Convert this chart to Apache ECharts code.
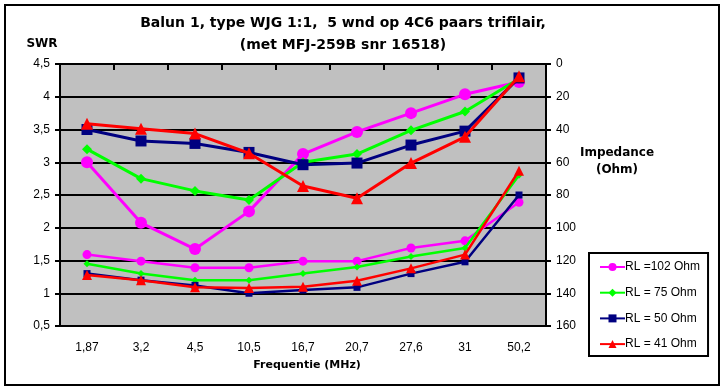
<!DOCTYPE html>
<html><head><meta charset="utf-8">
<script src="https://cdn.jsdelivr.net/npm/echarts@6/dist/echarts.min.js"></script>
<style>html,body{margin:0;padding:0;background:#fff}#c{width:726px;height:391px}</style>
</head><body><div id="c"></div>
<script>
var categories = ['1,87','3,2','4,5','10,5','16,7','20,7','27,6','31','50,2'];
var seriesNames = ['RL =102 Ohm','RL = 75 Ohm','RL = 50 Ohm','RL = 41 Ohm'];
// Impedance (right axis, Ohm)
var imp102 = [60, 97, 113, 90, 55, 41.5, 30, 18.5, 11];
var imp75  = [52, 70, 77.5, 83, 60, 55, 40.5, 29, 9];
var imp50  = [40, 47, 48.5, 54, 61.5, 60.5, 49.5, 41, 8.5];
var imp41  = [36.5, 39.5, 42.5, 54.5, 74.5, 82, 60.5, 44.5, 7.5];
// SWR (left axis)
var swr102 = [1.59, 1.49, 1.39, 1.39, 1.49, 1.49, 1.69, 1.8, 2.39];
var swr75  = [1.45, 1.3, 1.2, 1.2, 1.3, 1.4, 1.56, 1.69, 2.8];
var swr50  = [1.3, 1.2, 1.12, 1.0, 1.05, 1.09, 1.3, 1.48, 2.5];
var swr41  = [1.28, 1.2, 1.09, 1.08, 1.1, 1.19, 1.38, 1.59, 2.87];
var swrTicks = {min: 0.5, max: 4.5, interval: 0.5};
var impTicks = {min: 0, max: 160, interval: 20};

var colors = ['#FF00FF', '#00FF00', '#000080', '#FF0000'];
var symbols = ['circle', 'diamond', 'rect', 'triangle'];
var upperSize = [12, 10, 11, 12];
var lowerSize = [9, 7, 7, 10];
var impData = [imp102, imp75, imp50, imp41];
var swrData = [swr102, swr75, swr50, swr41];

var font = '"Liberation Sans", Arial, sans-serif';
var bfont = '"DejaVu Sans", "Liberation Sans", sans-serif';
var series = [];
for (var i = 0; i < 4; i++) {
  series.push({
    name: seriesNames[i], type: 'line', yAxisIndex: 1, data: impData[i],
    symbol: symbols[i], symbolSize: upperSize[i], z: 2 + i,
    lineStyle: {color: colors[i], width: 3}, itemStyle: {color: colors[i]},
    animation: false
  });
}
for (var j = 0; j < 4; j++) {
  series.push({
    name: seriesNames[j], type: 'line', yAxisIndex: 0, data: swrData[j],
    symbol: symbols[j], symbolSize: lowerSize[j], z: 2 + j,
    lineStyle: {color: colors[j], width: 2.5}, itemStyle: {color: colors[j]},
    animation: false
  });
}

var chart = echarts.init(document.getElementById('c'), null, {renderer: 'canvas'});
chart.setOption({
  backgroundColor: '#fff',
  animation: false,
  textStyle: {fontFamily: font},
  graphic: [
    {type: 'rect', shape: {x: 5, y: 5, width: 714, height: 380}, style: {fill: 'none', stroke: '#000', lineWidth: 2}, z: 0, silent: true},
    {type: 'text', x: 343, y: 23, style: {text: 'Balun 1, type WJG 1:1,  5 wnd op 4C6 paars trifilair,', font: 'bold 14px ' + bfont, fill: '#000', align: 'center', verticalAlign: 'middle'}},
    {type: 'text', x: 343, y: 45, style: {text: '(met MFJ-259B snr 16518)', font: 'bold 14px ' + bfont, fill: '#000', align: 'center', verticalAlign: 'middle'}},
    {type: 'text', x: 42, y: 44, style: {text: 'SWR', font: 'bold 12px ' + bfont, fill: '#000', align: 'center', verticalAlign: 'middle'}},
    {type: 'text', x: 617, y: 153, style: {text: 'Impedance', font: 'bold 12px ' + bfont, fill: '#000', align: 'center', verticalAlign: 'middle'}},
    {type: 'text', x: 617, y: 170, style: {text: '(Ohm)', font: 'bold 12px ' + bfont, fill: '#000', align: 'center', verticalAlign: 'middle'}},
    {type: 'text', x: 307, y: 365, style: {text: 'Frequentie (MHz)', font: 'bold 11px ' + bfont, fill: '#000', align: 'center', verticalAlign: 'middle'}}
  ],
  legend: {
    orient: 'vertical', left: 589, top: 253, width: 127,
    data: seriesNames,
    borderColor: '#000', borderWidth: 2, backgroundColor: '#fff',
    padding: [8, 8, 6, 10], itemGap: 13.7, itemWidth: 25, itemHeight: 10,
    textStyle: {fontFamily: font, fontSize: 12, color: '#000', padding: [0, 0, 0, -5]}
  },
  grid: {left: 60, right: 180, top: 64, bottom: 65, show: true, backgroundColor: '#C0C0C0', borderWidth: 0},
  xAxis: {
    type: 'category', data: categories, boundaryGap: true,
    axisLine: {lineStyle: {color: '#000', width: 2}},
    axisTick: {show: true, interval: 0, length: 6, lineStyle: {color: '#000', width: 2}},
    axisLabel: {color: '#000', fontSize: 12, fontFamily: font, margin: 16, interval: 0},
    splitLine: {show: false}
  },
  yAxis: [
    {
      type: 'value', min: swrTicks.min, max: swrTicks.max, interval: swrTicks.interval, position: 'left',
      axisLine: {show: true, lineStyle: {color: '#000', width: 2}},
      axisTick: {show: true, length: 5, lineStyle: {color: '#000', width: 2}},
      axisLabel: {color: '#000', fontSize: 12, fontFamily: font, margin: 10,
        formatter: function (v) { return String(v).replace('.', ','); }},
      splitLine: {show: true, lineStyle: {color: '#000', width: 2}}
    },
    {
      type: 'value', min: impTicks.min, max: impTicks.max, interval: impTicks.interval, position: 'right', inverse: true,
      axisLine: {show: true, lineStyle: {color: '#000', width: 2}},
      axisTick: {show: true, length: 5, lineStyle: {color: '#000', width: 2}},
      axisLabel: {color: '#000', fontSize: 12, fontFamily: font, margin: 10},
      splitLine: {show: false}
    }
  ],
  series: series
});
</script>
</body></html>
